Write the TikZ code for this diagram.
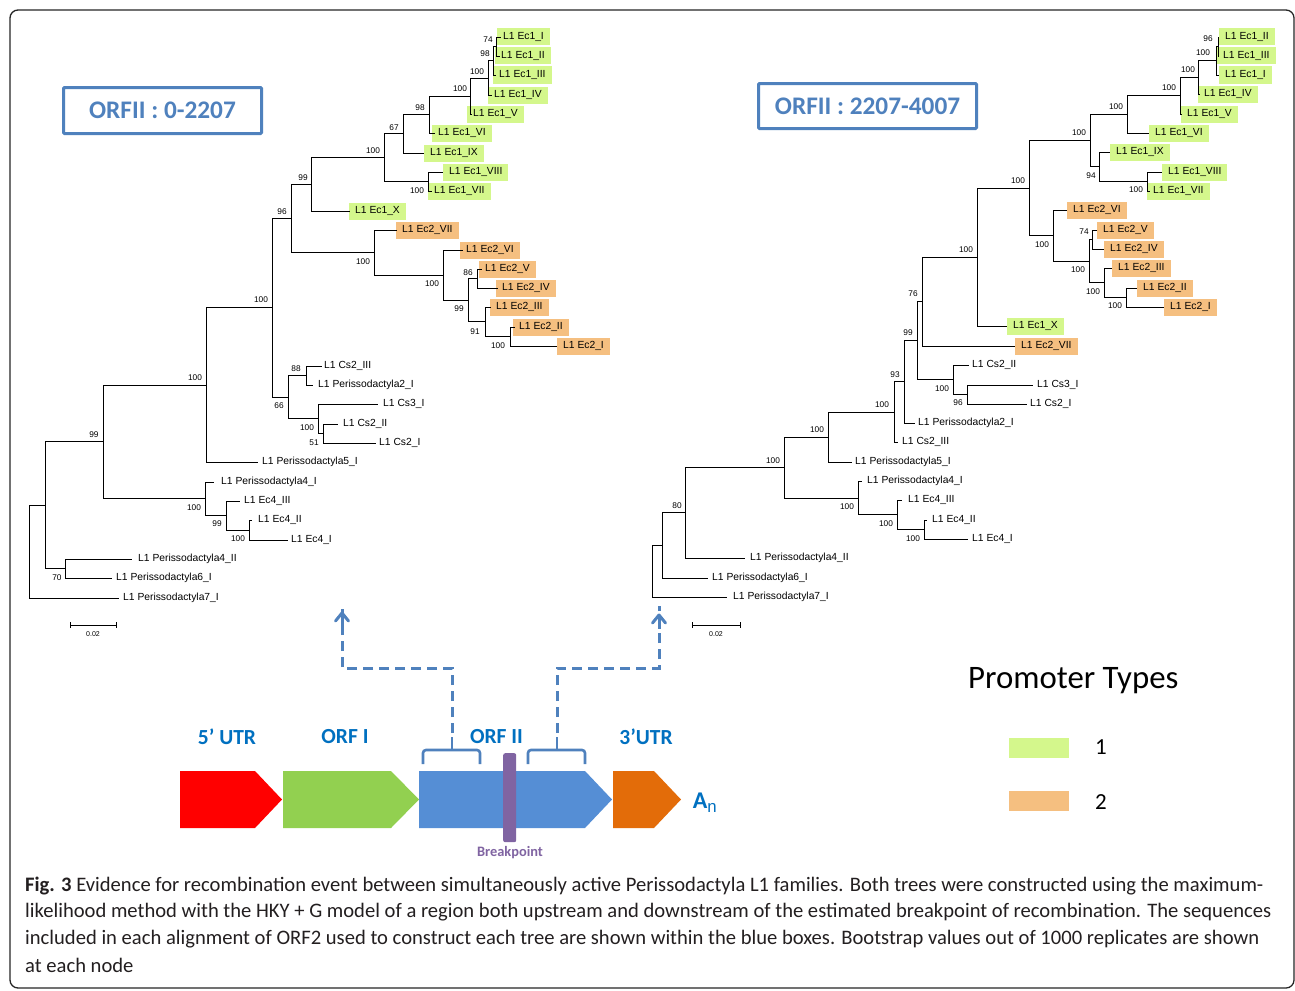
\documentclass[tikz,border=0pt]{standalone}
\usepackage{fontspec}
\setmainfont{Liberation Sans}
\newfontfamily\arial{Liberation Sans}
\newfontfamily\calibri{Carlito}
\usetikzlibrary{arrows.meta}
\definecolor{lg}{HTML}{D4F78C}
\definecolor{lo}{HTML}{F5BF80}
\definecolor{boxblue}{HTML}{4F81BD}
\definecolor{lblblue}{HTML}{0070C0}
\definecolor{gred}{HTML}{FF0000}
\definecolor{ggreen}{HTML}{92D050}
\definecolor{gblue}{HTML}{558ED5}
\definecolor{gorange}{HTML}{E36C09}
\definecolor{gpurple}{HTML}{8064A2}
\definecolor{captxt}{HTML}{231F20}
\tikzset{
 branch/.style={line width=0.8pt, black},
 lab/.style={font=\arial\fontsize{10.3}{12}\selectfont, inner sep=0pt, anchor=west},
 hl/.style={lab, inner xsep=6pt, minimum height=17pt},
 bs/.style={font=\arial\fontsize{8.3}{9}\selectfont, inner sep=0pt},
 orfbox/.style={draw=boxblue, line width=3pt, rounded corners=1pt},
 orftext/.style={font=\calibri\bfseries\fontsize{25.3}{28}\selectfont, text=boxblue},
 genelab/.style={font=\calibri\bfseries\fontsize{21.5}{24}\selectfont, text=lblblue},
 dashline/.style={draw=boxblue, line width=3pt, dash pattern=on 10pt off 6pt},
 bracestyle/.style={draw=boxblue, line width=2.6pt, rounded corners=3pt},
 captext/.style={font=\calibri\fontsize{20.6}{23}\selectfont, text=captxt, anchor=west, inner sep=0pt},
}
\newcommand{\lfG}[5]{\coordinate (#1) at (#2,#3); \node[hl,fill=lg] (#1t) at (#4,#3) {L1 #5};}
\newcommand{\lfO}[5]{\coordinate (#1) at (#2,#3); \node[hl,fill=lo] (#1t) at (#4,#3) {L1 #5};}
\newcommand{\lfN}[5]{\coordinate (#1) at (#2,#3); \node[lab] (#1t) at (#4,#3) {L1 #5};}
\newcommand{\jn}[3]{\draw[branch] (#1) |- (#2) (#1) |- (#3);}
\begin{document}
\begin{tikzpicture}[x=1pt,y=-1pt]
\useasboundingbox (0,0) rectangle (1295,990);
\fill[white] (0,0) rectangle (1295,990);
\draw[rounded corners=8pt, line width=1.3pt, black!85] (10,10) rectangle (1294,988);

% ================= LEFT TREE =================
\lfG{l1}{501}{37}{497}{Ec1\_I}
\lfG{l2}{500}{56}{495}{Ec1\_II}
\lfG{l3}{496}{75}{493}{Ec1\_III}
\lfG{l4}{492}{95}{488}{Ec1\_IV}
\lfG{l5}{472}{114}{467}{Ec1\_V}
\lfG{l6}{435}{133}{432}{Ec1\_VI}
\lfG{l7}{424}{153}{424}{Ec1\_IX}
\lfG{l8}{443}{172}{443}{Ec1\_VIII}
\lfG{l9}{432}{191}{428}{Ec1\_VII}
\lfG{l10}{350}{211}{349}{Ec1\_X}
\lfO{l11}{397}{230}{396}{Ec2\_VII}
\lfO{l12}{463}{250}{460}{Ec2\_VI}
\lfO{l13}{482}{269}{479}{Ec2\_V}
\lfO{l14}{498}{288}{496}{Ec2\_IV}
\lfO{l15}{491}{307}{490}{Ec2\_III}
\lfO{l16}{515}{327}{513}{Ec2\_II}
\lfO{l17}{557}{346}{557}{Ec2\_I}
\lfN{l18}{322}{366}{324}{Cs2\_III}
\lfN{l19}{313}{385}{318}{Perissodactyla2\_I}
\lfN{l20}{378}{404}{383}{Cs3\_I}
\lfN{l21}{338}{424}{343}{Cs2\_II}
\lfN{l22}{376}{443}{379}{Cs2\_I}
\lfN{l23}{258}{462}{262}{Perissodactyla5\_I}
\lfN{l24}{214}{482}{221}{Perissodactyla4\_I}
\lfN{l25}{240}{501}{244}{Ec4\_III}
\lfN{l26}{252}{520}{258}{Ec4\_II}
\lfN{l27}{288}{540}{291}{Ec4\_I}
\lfN{l28}{132}{559}{138}{Perissodactyla4\_II}
\lfN{l29}{112}{578}{116}{Perissodactyla6\_I}
\lfN{l30}{119}{598}{123}{Perissodactyla7\_I}

\coordinate (a74) at (496,46.5);
\coordinate (a98) at (493,60.75);
\coordinate (a100a) at (488,77.9);
\coordinate (a100b) at (470,95.9);
\coordinate (a98b) at (429,114.5);
\coordinate (a67) at (403,133.7);
\coordinate (a100c) at (428,181.5);
\coordinate (a100d) at (384,157.6);
\coordinate (a99) at (311,184.3);
\coordinate (b86) at (477,278.5);
\coordinate (b100a) at (510,336.5);
\coordinate (b91) at (485,321.75);
\coordinate (b99) at (468,300.1);
\coordinate (b100b) at (443,275.1);
\coordinate (b100c) at (374,252.5);
\coordinate (a96) at (291,218.4);
\coordinate (c88) at (306,375.5);
\coordinate (c51) at (323,433.5);
\coordinate (c100) at (318,418.75);
\coordinate (c66) at (288,397.1);
\coordinate (d100) at (272,307.8);
\coordinate (d100b) at (206,384.9);
\coordinate (e100c) at (249,530);
\coordinate (e99) at (226,515.5);
\coordinate (e100) at (205,498.75);
\coordinate (f99) at (103,441.8);
\coordinate (g70) at (65,568.5);
\coordinate (g45) at (45,505.2);
\coordinate (lroot) at (29,551.6);

\jn{a74}{l1}{l2}
\jn{a98}{a74}{l3}
\jn{a100a}{a98}{l4}
\jn{a100b}{a100a}{l5}
\jn{a98b}{a100b}{l6}
\jn{a67}{a98b}{l7}
\jn{a100c}{l8}{l9}
\jn{a100d}{a67}{a100c}
\jn{a99}{a100d}{l10}
\jn{b86}{l13}{l14}
\jn{b100a}{l16}{l17}
\jn{b91}{l15}{b100a}
\jn{b99}{b86}{b91}
\jn{b100b}{l12}{b99}
\jn{b100c}{l11}{b100b}
\jn{a96}{a99}{b100c}
\jn{c88}{l18}{l19}
\jn{c51}{l21}{l22}
\jn{c100}{l20}{c51}
\jn{c66}{c88}{c100}
\jn{d100}{a96}{c66}
\jn{d100b}{d100}{l23}
\jn{e100c}{l26}{l27}
\jn{e99}{l25}{e100c}
\jn{e100}{l24}{e99}
\jn{f99}{d100b}{e100}
\jn{g70}{l28}{l29}
\jn{g45}{f99}{g70}
\jn{lroot}{g45}{l30}

\node[bs] (ba74) at (488,40) {74};
\node[bs] (ba98) at (485,54) {98};
\node[bs] (ba100a) at (477,72) {100};
\node[bs] (ba100b) at (460,89) {100};
\node[bs] (ba98b) at (420,108) {98};
\node[bs] (ba67) at (394,128) {67};
\node[bs] (ba100d) at (373,151) {100};
\node[bs] (ba100c) at (417,191) {100};
\node[bs] (ba99) at (303,178) {99};
\node[bs] (ba96) at (282,212) {96};
\node[bs] (bb100c) at (363,262) {100};
\node[bs] (bb100b) at (432,284) {100};
\node[bs] (bb86) at (468,273) {86};
\node[bs] (bb99) at (459,309) {99};
\node[bs] (bb91) at (475,332) {91};
\node[bs] (bb100a) at (498,346) {100};
\node[bs] (bd100) at (261,300) {100};
\node[bs] (bc88) at (296,369) {88};
\node[bs] (bc66) at (279,406) {66};
\node[bs] (bc100) at (307,428) {100};
\node[bs] (bc51) at (314,443) {51};
\node[bs] (bd100b) at (195,378) {100};
\node[bs] (bf99) at (94,435) {99};
\node[bs] (be100) at (194,508) {100};
\node[bs] (be99) at (217,524) {99};
\node[bs] (be100c) at (238,539) {100};
\node[bs] (bg70) at (57,578) {70};

% scale bar left
\coordinate (sbl1) at (70,625); \coordinate (sbl2) at (116,625);
\draw[branch] (sbl1) -- (sbl2);
\draw[branch] (sbl1) ++(0,-3) -- ++(0,6);
\draw[branch] (sbl2) ++(0,-3) -- ++(0,6);
\node[bs, font=\arial\fontsize{7}{8}\selectfont] (sbll) at (93,634) {0.02};

% ================= RIGHT TREE =================
\lfG{r1}{1219}{37}{1219}{Ec1\_II}
\lfG{r2}{1219}{56}{1217}{Ec1\_III}
\lfG{r3}{1219}{75}{1219}{Ec1\_I}
\lfG{r4}{1200}{94}{1198}{Ec1\_IV}
\lfG{r5}{1182}{114}{1181}{Ec1\_V}
\lfG{r6}{1149}{133}{1149}{Ec1\_VI}
\lfG{r7}{1110}{152}{1110}{Ec1\_IX}
\lfG{r8}{1162}{172}{1162}{Ec1\_VIII}
\lfG{r9}{1150}{191}{1147}{Ec1\_VII}
\lfO{r10}{1067}{210}{1067}{Ec2\_VI}
\lfO{r11}{1097}{230}{1097}{Ec2\_V}
\lfO{r12}{1104}{249}{1104}{Ec2\_IV}
\lfO{r13}{1112}{268}{1112}{Ec2\_III}
\lfO{r14}{1137}{288}{1137}{Ec2\_II}
\lfO{r15}{1164}{307}{1164}{Ec2\_I}
\lfG{r16}{1007}{326}{1007}{Ec1\_X}
\lfO{r17}{1015}{346}{1015}{Ec2\_VII}
\lfN{r18}{969}{365}{972}{Cs2\_II}
\lfN{r19}{1033}{385}{1037}{Cs3\_I}
\lfN{r20}{1027}{404}{1030}{Cs2\_I}
\lfN{r21}{915}{423}{918}{Perissodactyla2\_I}
\lfN{r22}{898}{442}{902}{Cs2\_III}
\lfN{r23}{852}{462}{855}{Perissodactyla5\_I}
\lfN{r24}{862}{481}{867}{Perissodactyla4\_I}
\lfN{r25}{902}{500}{908}{Ec4\_III}
\lfN{r26}{927}{520}{932}{Ec4\_II}
\lfN{r27}{968}{539}{972}{Ec4\_I}
\lfN{r28}{745}{558}{750}{Perissodactyla4\_II}
\lfN{r29}{708}{578}{712}{Perissodactyla6\_I}
\lfN{r30}{727}{597}{733}{Perissodactyla7\_I}

\coordinate (s96) at (1218,46.5);
\coordinate (s100a) at (1216,60.75);
\coordinate (s100b) at (1198,77.4);
\coordinate (s100c) at (1180,95.7);
\coordinate (s100d) at (1127,114.3);
\coordinate (s100f) at (1147,181.5);
\coordinate (s94) at (1099,166.75);
\coordinate (s100e) at (1090,140.5);
\coordinate (t74) at (1092,239.5);
\coordinate (t100j) at (1126,297.5);
\coordinate (t100i) at (1104,282.75);
\coordinate (t100h) at (1089,261.1);
\coordinate (t100g) at (1053,235.6);
\coordinate (s100g) at (1029,188);
\coordinate (s100k) at (977,257);
\coordinate (s76) at (922,301.5);
\coordinate (u96) at (967,394.5);
\coordinate (u100) at (953,379.75);
\coordinate (s99) at (917,340.6);
\coordinate (s93) at (904,381.8);
\coordinate (s100m) at (894,411.9);
\coordinate (s100n) at (828,437);
\coordinate (v100r) at (924,529.5);
\coordinate (v100q) at (897,514.75);
\coordinate (v100p) at (858,497.9);
\coordinate (s100o) at (784,467.4);
\coordinate (s80) at (685,512.7);
\coordinate (sx) at (662,545.4);
\coordinate (sroot) at (652,571.2);

\jn{s96}{r1}{r2}
\jn{s100a}{s96}{r3}
\jn{s100b}{s100a}{r4}
\jn{s100c}{s100b}{r5}
\jn{s100d}{s100c}{r6}
\jn{s100f}{r8}{r9}
\jn{s94}{r7}{s100f}
\jn{s100e}{s100d}{s94}
\jn{t74}{r11}{r12}
\jn{t100j}{r14}{r15}
\jn{t100i}{r13}{t100j}
\jn{t100h}{t74}{t100i}
\jn{t100g}{r10}{t100h}
\jn{s100g}{s100e}{t100g}
\jn{s100k}{s100g}{r16}
\jn{s76}{s100k}{r17}
\jn{u96}{r19}{r20}
\jn{u100}{r18}{u96}
\jn{s99}{s76}{u100}
\jn{s93}{s99}{r21}
\jn{s100m}{s93}{r22}
\jn{s100n}{s100m}{r23}
\jn{v100r}{r26}{r27}
\jn{v100q}{r25}{v100r}
\jn{v100p}{r24}{v100q}
\jn{s100o}{s100n}{v100p}
\jn{s80}{s100o}{r28}
\jn{sx}{s80}{r29}
\jn{sroot}{sx}{r30}

\node[bs] (bs96) at (1208,39) {96};
\node[bs] (bs100a) at (1203,53) {100};
\node[bs] (bs100b) at (1188,70) {100};
\node[bs] (bs100c) at (1169,88) {100};
\node[bs] (bs100d) at (1116,107) {100};
\node[bs] (bs100e) at (1079,133) {100};
\node[bs] (bs94) at (1091,176) {94};
\node[bs] (bs100f) at (1136,190) {100};
\node[bs] (bs100g) at (1018,181) {100};
\node[bs] (bt100g) at (1042,245) {100};
\node[bs] (bt74) at (1084,232) {74};
\node[bs] (bt100h) at (1078,270) {100};
\node[bs] (bt100i) at (1093,292) {100};
\node[bs] (bt100j) at (1115,306) {100};
\node[bs] (bs100k) at (966,250) {100};
\node[bs] (bs76) at (913,294) {76};
\node[bs] (bs99) at (908,333) {99};
\node[bs] (bu100) at (942,389) {100};
\node[bs] (bu96) at (958,403) {96};
\node[bs] (bs93) at (895,375) {93};
\node[bs] (bs100m) at (882,405) {100};
\node[bs] (bs100n) at (817,430) {100};
\node[bs] (bs100o) at (773,461) {100};
\node[bs] (bv100p) at (847,507) {100};
\node[bs] (bv100q) at (886,524) {100};
\node[bs] (bv100r) at (913,539) {100};
\node[bs] (bs80) at (677,506) {80};

% scale bar right
\coordinate (sbr1) at (692,625); \coordinate (sbr2) at (740,625);
\draw[branch] (sbr1) -- (sbr2);
\draw[branch] (sbr1) ++(0,-3) -- ++(0,6);
\draw[branch] (sbr2) ++(0,-3) -- ++(0,6);
\node[bs, font=\arial\fontsize{7}{8}\selectfont] (sbrl) at (716,634) {0.02};

% ================= ORF boxes =================
\node[orfbox, minimum width=198pt, minimum height=46pt, anchor=north west] (orfL) at (62,86) {};
\node[orftext] (orfLt) at (orfL.center) {ORFII : 0-2207};
\node[orfbox, minimum width=218pt, minimum height=45pt, anchor=north west] (orfR) at (757,82) {};
\node[orftext] (orfRt) at (orfR.center) {ORFII : 2207-4007};

% ================= Legend =================
\node[font=\calibri\fontsize{32.8}{36}\selectfont, inner sep=0pt, anchor=west] (promo) at (968,681) {Promoter Types};
\node[fill=lg, minimum width=60pt, minimum height=20pt, inner sep=0pt, anchor=north west] (leg1) at (1009,738) {};
\node[fill=lo, minimum width=60pt, minimum height=20pt, inner sep=0pt, anchor=north west] (leg2) at (1009,791) {};
\node[font=\calibri\fontsize{23}{26}\selectfont, inner sep=0pt] (leg1t) at (1101,747) {1};
\node[font=\calibri\fontsize{23}{26}\selectfont, inner sep=0pt] (leg2t) at (1101,802) {2};

% ================= Gene diagram =================
\fill[gred] (180,771) -- (255,771) -- (282,799.5) -- (255,828) -- (180,828) -- cycle;
\fill[ggreen] (283,771) -- (391,771) -- (419,799.5) -- (391,828) -- (283,828) -- cycle;
\fill[gblue] (419,771) -- (585,771) -- (612,799.5) -- (585,828) -- (419,828) -- cycle;
\fill[gorange] (613,771) -- (654,771) -- (681,799.5) -- (654,828) -- (613,828) -- cycle;
\node[fill=gpurple, rounded corners=2pt, minimum width=13pt, minimum height=89pt, inner sep=0pt, anchor=north west] (bkbar) at (503,753) {};
\node[font=\calibri\bfseries\fontsize{14.4}{16}\selectfont, text=gpurple, inner sep=0pt] (bkt) at (510,853) {Breakpoint};
\node[genelab, inner sep=0pt] (utr5) at (227,737) {5’ UTR};
\node[genelab, inner sep=0pt] (orf1) at (345,737) {ORF I};
\node[genelab, inner sep=0pt] (orf2) at (496.5,737) {ORF II};
\node[genelab, inner sep=0pt] (utr3) at (646,737) {3’UTR};
\node[font=\calibri\bfseries\fontsize{24}{26}\selectfont, text=lblblue, inner sep=0pt] (an) at (705,803) {A$_\mathrm{n}$};

% braces
\draw[bracestyle] (423,764) -- (423,750) -- (480,750) -- (480,764);
\draw[bracestyle] (528,764) -- (528,750) -- (585,750) -- (585,764);
\coordinate (bl) at (452,750);
\coordinate (br) at (557,750);
\draw[draw=boxblue, line width=2.6pt] (bl) -- ++(0,-13);
\draw[draw=boxblue, line width=2.6pt] (br) -- ++(0,-13);
% dashed connectors
\coordinate (cl) at (452,668);
\coordinate (cr) at (557,668);
\coordinate (tl) at (342,613);
\coordinate (tr) at (659,615);
\draw[dashline] (bl) ++(0,-17) -- (cl) -| ([yshift=9pt]tl);
\draw[dashline] (br) ++(0,-17) -- (cr) -| ([yshift=9pt]tr);
\draw[draw=boxblue, line width=3pt, line cap=round, line join=round] ([shift={(-6.5,8)}]tl) -- (tl) -- ([shift={(6.5,8)}]tl);
\draw[draw=boxblue, line width=3pt, line cap=round, line join=round] ([shift={(-6.5,8)}]tr) -- (tr) -- ([shift={(6.5,8)}]tr);
\draw[draw=boxblue, line width=3pt] (tl) -- ++(0,14);
\draw[draw=boxblue, line width=3pt] (tr) -- ++(0,14);

% ================= Caption =================
\node[captext] (cap1) at (25,886) {\textbf{Fig. 3} Evidence for recombination event between simultaneously active Perissodactyla L1 families. Both trees were constructed using the maximum-};
\node[captext] (cap2) at (25,912) {likelihood method with the HKY + G model of a region both upstream and downstream of the estimated breakpoint of recombination. The sequences};
\node[captext] (cap3) at (25,939) {included in each alignment of ORF2 used to construct each tree are shown within the blue boxes. Bootstrap values out of 1000 replicates are shown};
\node[captext] (cap4) at (25,965) {at each node};
\end{tikzpicture}
\end{document}
